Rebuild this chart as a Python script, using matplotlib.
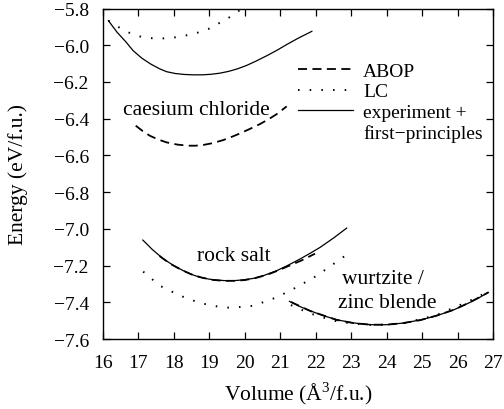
import matplotlib
matplotlib.use("Agg")
import matplotlib.pyplot as plt

plt.rcParams['font.family'] = ['Liberation Serif', 'DejaVu Serif']
plt.rcParams['mathtext.fontset'] = 'custom'
plt.rcParams['mathtext.rm'] = 'Liberation Serif'
plt.rcParams['font.size'] = 14

# caesium chloride
cscl_exp_v = [16.16, 16.40, 16.65, 16.86, 17.10, 17.35, 17.60, 17.80, 18.05, 18.30, 18.55, 18.80,
              19.05, 19.30, 19.55, 19.80, 20.05, 20.30, 20.62, 20.90, 21.20, 21.50, 21.89]
cscl_exp_e = [-5.866, -5.928, -5.981, -6.030, -6.070, -6.102, -6.128, -6.144, -6.154, -6.159, -6.161, -6.161,
              -6.158, -6.152, -6.142, -6.128, -6.110, -6.088, -6.057, -6.028, -5.994, -5.962, -5.924]
cscl_lc_v = [16.16, 16.49, 16.82, 17.14, 17.52, 17.90, 18.27, 18.65, 19.02, 19.30, 19.55, 19.77, 19.95]
cscl_lc_e = [-5.866, -5.906, -5.939, -5.957, -5.964, -5.961, -5.950, -5.933, -5.908, -5.877, -5.850, -5.821, -5.797]
cscl_abop_v = [16.93, 17.13, 17.33, 17.56, 17.80, 18.10, 18.41, 18.62, 18.83, 19.10, 19.40, 19.63,
               19.87, 20.15, 20.43, 20.67, 20.90, 21.18]
cscl_abop_e = [-6.438, -6.468, -6.493, -6.513, -6.529, -6.541, -6.547, -6.547, -6.543, -6.533, -6.516, -6.499,
               -6.480, -6.455, -6.429, -6.403, -6.375, -6.333]

# rock salt
rs_exp_v = [17.13, 17.40, 17.71, 18.00, 18.27, 18.50, 18.74, 19.00, 19.21, 19.45, 19.70, 19.95,
            20.24, 20.55, 20.90, 21.20, 21.56, 21.85, 22.12, 22.50, 22.87]
rs_exp_e = [-7.061, -7.113, -7.164, -7.200, -7.228, -7.248, -7.264, -7.274, -7.279, -7.282, -7.282, -7.278,
            -7.270, -7.253, -7.228, -7.200, -7.164, -7.132, -7.101, -7.050, -6.996]
rs_lc_v = [17.14, 17.61, 18.18, 18.74, 19.21, 19.59, 20.24, 20.90, 21.46, 22.03, 22.87]
rs_lc_e = [-7.233, -7.310, -7.364, -7.404, -7.422, -7.430, -7.419, -7.373, -7.318, -7.255, -7.141]
rs_abop_v = [17.60, 17.90, 18.20, 18.50, 18.80, 19.10, 19.40, 19.70, 20.00, 20.30, 20.60, 20.90,
             21.20, 21.60, 21.98]
rs_abop_e = [-7.148, -7.190, -7.222, -7.248, -7.266, -7.278, -7.283, -7.283, -7.279, -7.268, -7.252, -7.230,
             -7.205, -7.172, -7.135]

# wurtzite / zinc blende
wz_exp_v = [21.26, 21.55, 21.84, 22.20, 22.59, 23.05, 23.53, 24.00, 24.47, 24.95, 25.41, 25.90,
            26.35, 26.60, 26.86]
wz_exp_e = [-7.395, -7.423, -7.446, -7.472, -7.495, -7.512, -7.522, -7.522, -7.513, -7.496, -7.473, -7.440,
            -7.400, -7.375, -7.346]
wz_lc_v = [21.30, 21.80, 22.50, 23.00, 23.50, 24.00, 24.50, 25.40, 26.30, 26.90]
wz_lc_e = [-7.415, -7.458, -7.500, -7.515, -7.523, -7.522, -7.513, -7.470, -7.395, -7.338]
wz_abop_v = [21.30, 21.84, 22.59, 23.05, 23.53, 24.00, 24.47, 24.95, 25.41, 25.90, 26.35, 26.86]
wz_abop_e = [-7.398, -7.447, -7.496, -7.513, -7.522, -7.522, -7.513, -7.497, -7.472, -7.440, -7.399, -7.346]

xticks = list(range(16, 28))
yticks = [-7.6, -7.4, -7.2, -7.0, -6.8, -6.6, -6.4, -6.2, -6.0, -5.8]

fig = plt.figure(figsize=(5.04, 4.10), dpi=100)
ax = fig.add_axes([0.2038, 0.1707, 0.775, 0.806])

dash = (5.0, 3.0)
dot = (0.8, 5.2)

ax.plot(cscl_abop_v, cscl_abop_e, color='black', lw=1.3, dashes=dash, label='ABOP')
ax.plot(cscl_lc_v, cscl_lc_e, color='black', lw=1.4, dashes=dot, label='LC')
ax.plot(cscl_exp_v, cscl_exp_e, color='black', lw=0.9, label='experiment +')
# second line of the last key entry, no handle
ax.plot([], [], color='none', label='first\u2212principles')

ax.plot(rs_abop_v, rs_abop_e, color='black', lw=1.3, dashes=dash)
ax.plot(rs_lc_v, rs_lc_e, color='black', lw=1.4, dashes=dot)
ax.plot(rs_exp_v, rs_exp_e, color='black', lw=0.9)

ax.plot(wz_abop_v, wz_abop_e, color='black', lw=1.3, dashes=dash)
ax.plot(wz_lc_v, wz_lc_e, color='black', lw=1.4, dashes=dot)
ax.plot(wz_exp_v, wz_exp_e, color='black', lw=0.9)

lab = 15.5
ax.text(18.64, -6.348, 'caesium chloride', ha='center', va='center', fontsize=lab)
ax.text(19.68, -7.146, 'rock salt', ha='center', va='center', fontsize=lab)
ax.text(23.9, -7.273, 'wurtzite /', ha='center', va='center', fontsize=lab)
ax.text(24.0, -7.40, 'zinc blende', ha='center', va='center', fontsize=lab)

ax.set_xlim(16, 27)
ax.set_ylim(-7.6, -5.8)
ax.set_xticks(xticks)
ax.set_yticks(yticks)
ax.set_yticklabels(['\u2212%.1f' % abs(t) for t in yticks])
ax.tick_params(direction='in', top=True, right=True, length=5, width=0.9)
ax.tick_params(axis='x', pad=11)
ax.tick_params(axis='y', pad=10)
for s in ax.spines.values():
    s.set_linewidth(1.0)

ax.set_xlabel('Volume (\u00c5$^{3}$/f.u.)', fontsize=lab)
ax.set_ylabel('Energy (eV/f.u.)', fontsize=lab)
ax.xaxis.set_label_coords(0.5, -0.123)
ax.yaxis.set_label_coords(-0.191, 0.5)

ax.legend(loc='upper left', bbox_to_anchor=(0.481, 0.861), frameon=False,
          handlelength=2.8, handletextpad=0.52, labelspacing=0.15,
          borderaxespad=0)

fig.savefig('out.png', dpi=100)
